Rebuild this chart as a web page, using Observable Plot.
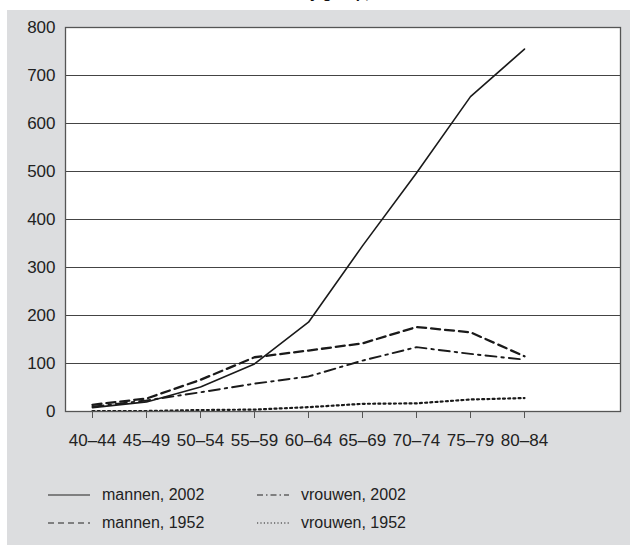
<!DOCTYPE html>
<html>
<head>
<meta charset="utf-8">
<script src="https://cdn.jsdelivr.net/npm/d3@7"></script>
<script src="https://cdn.jsdelivr.net/npm/@observablehq/plot@0.6"></script>
<style>
  html, body { margin: 0; padding: 0; background: #ffffff; width: 630px; height: 545px; overflow: hidden; font-family: "Liberation Sans", Arial, sans-serif; }
  #bg { position: absolute; left: 7px; top: 10px; width: 623px; height: 535px; background: #dcdddf; }
  .title { position: absolute; top: -15px; font-weight: bold; font-size: 15px; line-height: 15px; color: #111; white-space: nowrap; }
  #chart { position: absolute; left: 0; top: 0; }
  #legend { position: absolute; left: 0; top: 0; }
  .item { position: absolute; display: flex; align-items: center; font-size: 16px; color: #222; white-space: nowrap; }
  .item svg { margin-right: 12px; }
</style>
</head>
<body>
<div id="bg"></div>
<div class="title" style="left:0; width:310px; text-align:right;">Incidence rate b</div>
<div class="title" style="left:310px;">y group,</div>
<div id="chart"></div>
<div id="legend"></div>
<script>
const ageGroups = ["40–44","45–49","50–54","55–59","60–64","65–69","70–74","75–79","80–84"];
const mannen2002  = [8, 20, 51, 99, 186, 345, 497, 656, 755];
const mannen1952  = [14, 27, 66, 113, 127, 142, 176, 165, 115];
const vrouwen2002 = [10, 23, 40, 58, 73, 106, 134, 120, 108];
const vrouwen1952 = [1, 1, 3, 4, 9, 16, 17, 25, 28];
const seriesNames = ["mannen, 2002", "mannen, 1952", "vrouwen, 2002", "vrouwen, 1952"];
const yTicks = [0, 100, 200, 300, 400, 500, 600, 700, 800];

const seriesValues = [mannen2002, mannen1952, vrouwen2002, vrouwen1952];
const styles = {
  "mannen, 2002":  {dash: null, width: 1.6},
  "mannen, 1952":  {dash: "9,5", width: 2.3},
  "vrouwen, 2002": {dash: "11,5,2.5,5", width: 1.9},
  "vrouwen, 1952": {dash: "2,3.2", width: 2.2}
};
const data = [];
seriesNames.forEach((s, i) => ageGroups.forEach((a, j) => data.push({series: s, age: a, value: seriesValues[i][j]})));

const lineMarks = seriesNames.map(s => Plot.line(data.filter(d => d.series === s), {
  x: "age", y: "value", stroke: "#1a1a1a", strokeWidth: styles[s].width,
  strokeDasharray: styles[s].dash || undefined, strokeLinejoin: "round"
}));

const chart = Plot.plot({
  width: 630,
  height: 460,
  marginLeft: 65,
  marginRight: 10,
  marginTop: 27,
  marginBottom: 49,
  style: {background: "transparent", fontFamily: "'Liberation Sans', Arial, sans-serif", fontSize: "17px", color: "#222"},
  x: {type: "point", domain: ageGroups, range: [89, 527], padding: 0, label: null},
  y: {domain: [0, 800], label: null},
  marks: [
    Plot.frame({fill: "white", stroke: "none"}),
    Plot.ruleY(yTicks.filter(t => t > 0 && t < 800), {stroke: "#444", strokeWidth: 1}),
    ...lineMarks,
    Plot.frame({stroke: "#555", strokeWidth: 1.3}),
    Plot.axisY(yTicks, {tickSize: 0, tickPadding: 10, fontSize: 17, fill: "#222", label: null}),
    Plot.axisX(ageGroups, {tickSize: 7, tickPadding: 15, fontSize: 17, fill: "#222", stroke: "#555", label: null})
  ]
});
document.getElementById("chart").appendChild(chart);

// legend
const legendPos = [[48, 495], [48, 523], [257, 495], [257, 523]];
const legend = document.getElementById("legend");
seriesNames.forEach((s, i) => {
  const div = document.createElement("div");
  div.className = "item";
  div.style.left = legendPos[i][0] + "px";
  div.style.top = (legendPos[i][1] - 10) + "px";
  const w = i < 2 ? 42 : 32;
  const dashL = {"mannen, 1952": "6,4", "vrouwen, 2002": "6,3,1.5,3", "vrouwen, 1952": "1.2,2.2"}[s];
  div.innerHTML = `<svg width="${w}" height="20"><line x1="0" x2="${w}" y1="10" y2="10" stroke="#222" stroke-width="1.1" ${dashL ? `stroke-dasharray="${dashL}"` : ""}/></svg><span>${s}</span>`;
  legend.appendChild(div);
});
</script>
</body>
</html>
